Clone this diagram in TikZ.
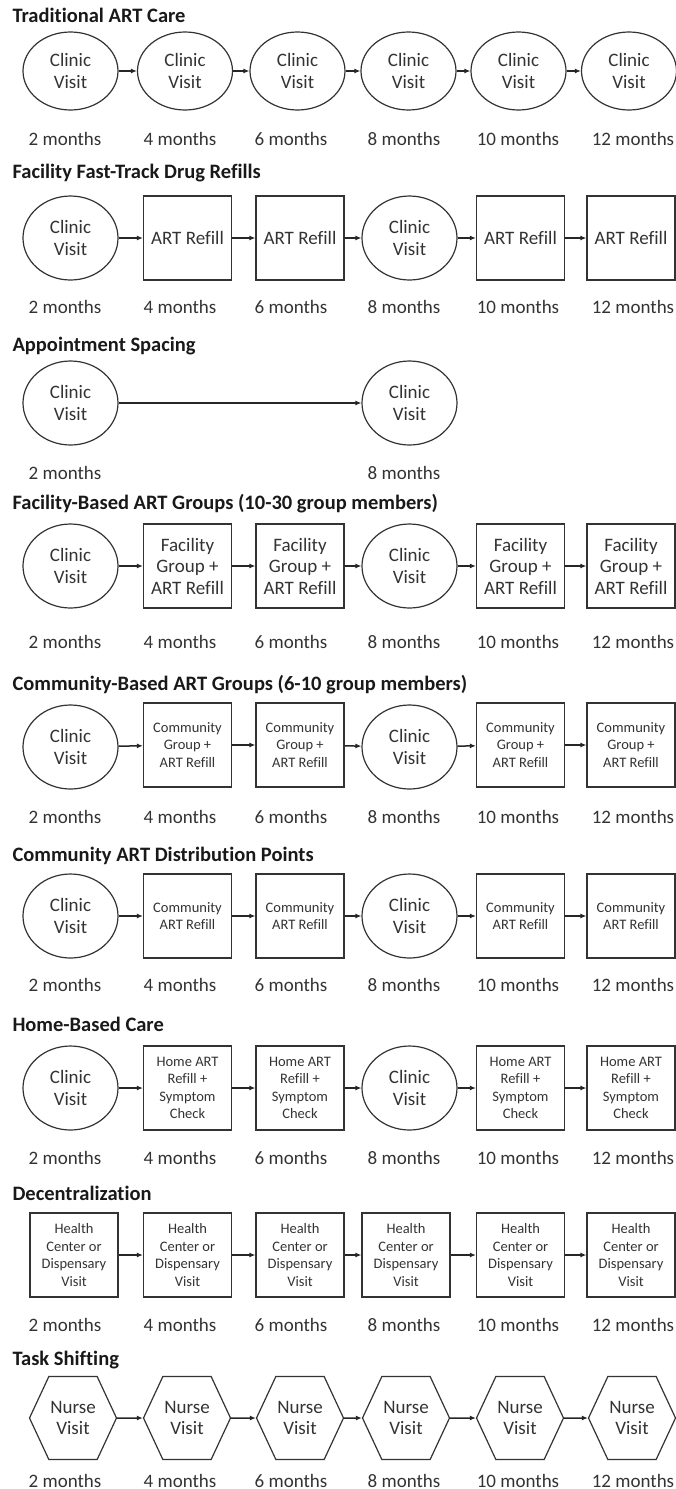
\documentclass[tikz,border=0pt]{standalone}
\usepackage{fontspec}
\setmainfont{Carlito}[RawFeature={-liga}]
\usetikzlibrary{arrows.meta}
\usetikzlibrary{shapes.geometric,shapes.symbols}

\tikzset{
  visit/.style={ellipse,draw=black!80,line width=1.2pt,minimum width=95pt,
    minimum height=84pt,inner sep=0pt,align=center,text=black!80,
    font=\fontsize{19}{21.5}\selectfont},
  refill/.style={rectangle,draw=black!80,line width=1.2pt,minimum width=88pt,
    minimum height=84pt,inner sep=0pt,align=center,text=black!80,
    font=\fontsize{19}{21.5}\selectfont},
  smallbox/.style={refill,font=\fontsize{14.5}{17.5}\selectfont},
  nurse/.style={signal,signal to=west and east,signal pointer angle=130,
    draw=black!80,line width=1.2pt,minimum width=87pt,minimum height=83pt,
    inner sep=0pt,align=center,text=black!80,font=\fontsize{19}{21.5}\selectfont},
  months/.style={anchor=base,text=black!80,font=\fontsize{19}{22}\selectfont},
  heading/.style={anchor=base west,text=black!90,
    font=\fontsize{20.5}{24}\selectfont\bfseries},
  link/.style={-{Latex[length=6pt,width=5pt]},line width=1.5pt,black!85}
}

\begin{document}
\begin{tikzpicture}[x=1pt,y=-1pt]
    \useasboundingbox (0,0) rectangle (675,1489);
    %
    \node[heading] (head1) at (9,22) {Traditional ART Care};
    \node[visit,minimum height=78pt] (t1) at (70.5,71) {Clinic\\Visit};
    \node[visit,minimum height=78pt] (t2) at (185,71) {Clinic\\Visit};
    \node[visit,minimum height=78pt] (t3) at (297.5,71) {Clinic\\Visit};
    \node[visit,minimum height=78pt] (t4) at (408.5,71) {Clinic\\Visit};
    \node[visit,minimum height=78pt] (t5) at (518.5,71) {Clinic\\Visit};
    \node[visit,minimum height=78pt] (t6) at (629,71) {Clinic\\Visit};
    %
    \node[heading] (head2) at (9,178) {Facility Fast-Track Drug Refills};
    \node[visit] (f1) at (70.5,238) {Clinic\\Visit};
    \node[refill] (f2) at (187.5,238) {ART Refill};
    \node[refill] (f3) at (300,238) {ART Refill};
    \node[visit] (f4) at (409.5,238) {Clinic\\Visit};
    \node[refill] (f5) at (520.5,238) {ART Refill};
    \node[refill] (f6) at (631,238) {ART Refill};
    %
    \node[heading] (head3) at (9,351) {Appointment Spacing};
    \node[visit] (s1) at (70.5,403) {Clinic\\Visit};
    \node[visit] (s4) at (409.5,403) {Clinic\\Visit};
    %
    \node[heading] (head4) at (9,509) {Facility-Based ART Groups (10-30 group members)};
    \node[visit] (g1) at (70.5,566) {Clinic\\Visit};
    \node[refill] (g2) at (187.5,566) {Facility\\Group +\\ART Refill};
    \node[refill] (g3) at (300,566) {Facility\\Group +\\ART Refill};
    \node[visit] (g4) at (409.5,566) {Clinic\\Visit};
    \node[refill] (g5) at (520.5,566) {Facility\\Group +\\ART Refill};
    \node[refill] (g6) at (631,566) {Facility\\Group +\\ART Refill};
    %
    \node[heading] (head5) at (9,690) {Community-Based ART Groups (6-10 group members)};
    \node[visit] (c1) at (70.5,747) {Clinic\\Visit};
    \node[smallbox] (c2) at (187.5,745) {Community\\Group +\\ART Refill};
    \node[smallbox] (c3) at (300,745) {Community\\Group +\\ART Refill};
    \node[visit] (c4) at (409.5,747) {Clinic\\Visit};
    \node[smallbox] (c5) at (520.5,745) {Community\\Group +\\ART Refill};
    \node[smallbox] (c6) at (631,745) {Community\\Group +\\ART Refill};
    %
    \node[heading] (head6) at (9,861) {Community ART Distribution Points};
    \node[visit] (p1) at (70.5,916) {Clinic\\Visit};
    \node[smallbox] (p2) at (187.5,916) {Community\\ART Refill};
    \node[smallbox] (p3) at (300,916) {Community\\ART Refill};
    \node[visit] (p4) at (409.5,916) {Clinic\\Visit};
    \node[smallbox] (p5) at (520.5,916) {Community\\ART Refill};
    \node[smallbox] (p6) at (631,916) {Community\\ART Refill};
    %
    \node[heading] (head7) at (9,1031) {Home-Based Care};
    \node[visit] (h1) at (70.5,1088) {Clinic\\Visit};
    \node[smallbox] (h2) at (187.5,1088) {Home ART\\Refill +\\Symptom\\Check};
    \node[smallbox] (h3) at (300,1088) {Home ART\\Refill +\\Symptom\\Check};
    \node[visit] (h4) at (409.5,1088) {Clinic\\Visit};
    \node[smallbox] (h5) at (520.5,1088) {Home ART\\Refill +\\Symptom\\Check};
    \node[smallbox] (h6) at (631,1088) {Home ART\\Refill +\\Symptom\\Check};
    %
    \node[heading] (head8) at (9,1200) {Decentralization};
    \node[smallbox] (d1) at (74,1255) {Health\\Center or\\Dispensary\\Visit};
    \node[smallbox] (d2) at (187.5,1255) {Health\\Center or\\Dispensary\\Visit};
    \node[smallbox] (d3) at (300,1255) {Health\\Center or\\Dispensary\\Visit};
    \node[smallbox] (d4) at (406,1255) {Health\\Center or\\Dispensary\\Visit};
    \node[smallbox] (d5) at (520.5,1255) {Health\\Center or\\Dispensary\\Visit};
    \node[smallbox] (d6) at (631,1255) {Health\\Center or\\Dispensary\\Visit};
    %
    \node[heading] (head9) at (9,1365) {Task Shifting};
    \node[nurse] (n1) at (73,1418) {Nurse\\Visit};
    \node[nurse] (n2) at (187,1418) {Nurse\\Visit};
    \node[nurse] (n3) at (300,1418) {Nurse\\Visit};
    \node[nurse] (n4) at (406,1418) {Nurse\\Visit};
    \node[nurse] (n5) at (520,1418) {Nurse\\Visit};
    \node[nurse] (n6) at (632,1418) {Nurse\\Visit};
    %
    \foreach \row in {t,f,g,c,p,h,d,n}
      \foreach \i/\j in {1/2,2/3,3/4,4/5,5/6}
        \draw[link] (\row\i) -- (\row\j);
    \draw[link] (s1) -- (s4);
    %
    \foreach \row/\y in {t/145,f/313,g/648,c/823,p/991,h/1164,d/1331,n/1487}
      \foreach \i/\x/\m in {1/65/2,2/180/4,3/291/6,4/404/8,5/518/10,6/633/12}
        \node[months] (\row m\i) at (\x,\y) {\m~months};
    \node[months] (sm1) at (65,479) {2 months};
    \node[months] (sm4) at (404,479) {8 months};
\end{tikzpicture}
\end{document}
